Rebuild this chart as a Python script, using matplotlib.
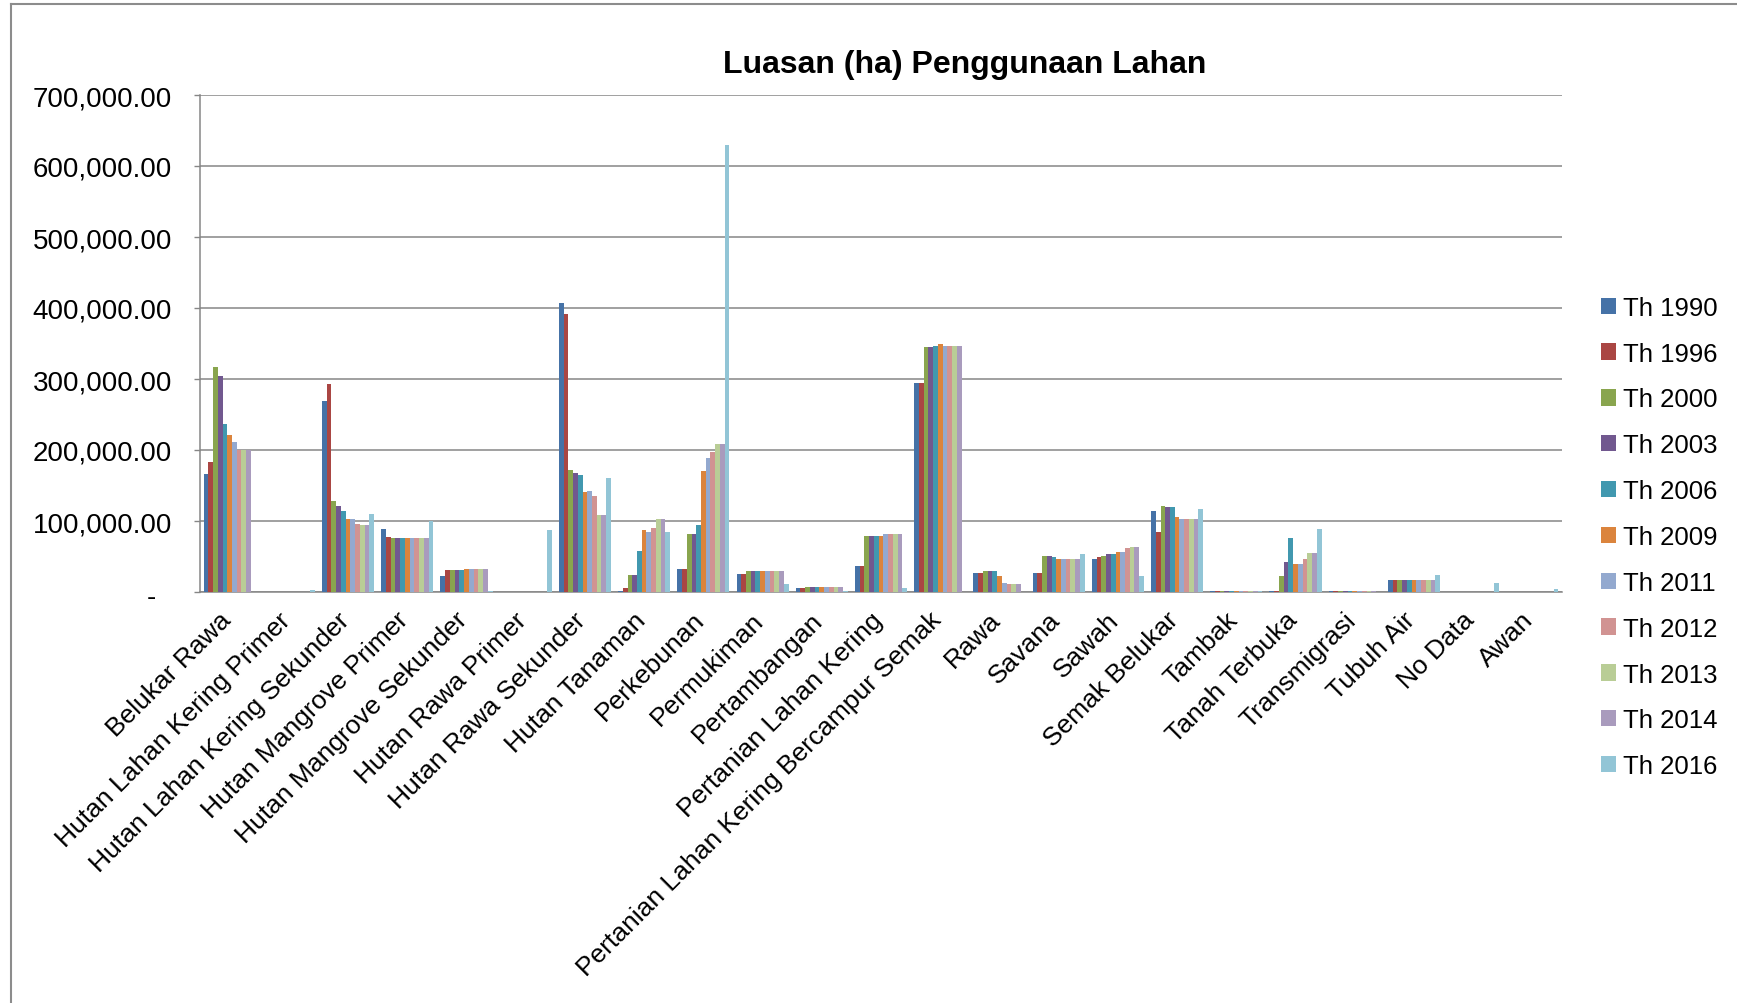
import numpy as np
import matplotlib
matplotlib.use("Agg")
import matplotlib.pyplot as plt
from matplotlib.lines import Line2D
from matplotlib.transforms import ScaledTranslation

plt.rcParams['font.family'] = ['Liberation Sans', 'DejaVu Sans']

categories = ["Belukar Rawa", "Hutan Lahan Kering Primer", "Hutan Lahan Kering Sekunder",
              "Hutan Mangrove Primer", "Hutan Mangrove Sekunder", "Hutan Rawa Primer",
              "Hutan Rawa Sekunder", "Hutan Tanaman", "Perkebunan", "Permukiman",
              "Pertambangan", "Pertanian Lahan Kering", "Pertanian Lahan Kering Bercampur Semak",
              "Rawa", "Savana", "Sawah", "Semak Belukar", "Tambak", "Tanah Terbuka",
              "Transmigrasi", "Tubuh Air", "No Data", "Awan"]

years = ["Th 1990", "Th 1996", "Th 2000", "Th 2003", "Th 2006", "Th 2009",
         "Th 2011", "Th 2012", "Th 2013", "Th 2014", "Th 2016"]

th1990 = [166700, 0, 269500, 89000, 21900, 0, 406700, 1900, 32900, 25700, 5700, 36200,
          294800, 27100, 27100, 47100, 114300, 1500, 1500, 1500, 17100, 0, 0]
th1996 = [183300, 0, 293300, 78100, 31000, 0, 391000, 5700, 32900, 25700, 5700, 36200,
          294800, 27100, 27100, 49000, 85200, 1500, 1500, 1500, 17100, 0, 0]
th2000 = [316700, 0, 128600, 76200, 31000, 0, 171900, 23800, 81400, 29000, 7600, 79500,
          345200, 29000, 51000, 51000, 121400, 1500, 22400, 1500, 17100, 0, 0]
th2003 = [303800, 0, 121400, 76200, 31000, 0, 168100, 23800, 81400, 29000, 7600, 79500,
          345200, 29000, 51000, 52900, 119500, 1500, 42400, 1500, 17100, 0, 0]
th2006 = [237100, 0, 114300, 76200, 31000, 0, 164300, 58100, 94300, 29000, 7600, 79500,
          347100, 29000, 49000, 52900, 119500, 1500, 76700, 1500, 17100, 0, 0]
th2009 = [221000, 0, 103300, 76200, 32900, 0, 141000, 87100, 170000, 29000, 7600, 79500,
          349000, 21900, 47100, 56700, 105200, 1500, 40000, 1500, 17100, 0, 0]
th2011 = [211900, 0, 103300, 76200, 32900, 0, 142900, 85200, 188100, 29000, 7600, 81400,
          347100, 12900, 47100, 56700, 103300, 1500, 40000, 1500, 17100, 0, 0]
th2012 = [200000, 0, 96200, 76200, 32900, 0, 135700, 90500, 196700, 29000, 7600, 81400,
          347100, 11000, 47100, 61900, 103300, 1500, 46200, 1500, 17100, 0, 0]
th2013 = [200000, 0, 94300, 76200, 32900, 0, 108600, 103300, 208100, 29000, 7600, 81400,
          347100, 11000, 47100, 63300, 103300, 1500, 54800, 1500, 17100, 0, 0]
th2014 = [200000, 0, 94300, 76200, 32900, 0, 108600, 103300, 208100, 29000, 7600, 81400,
          347100, 11000, 47100, 63300, 103300, 1500, 54800, 1500, 17100, 0, 0]
th2016 = [0, 2400, 110500, 99500, 1900, 87100, 161000, 85200, 629000, 11000, 1900, 5700,
          0, 0, 52900, 21900, 117600, 1500, 89000, 0, 24300, 13300, 4300]

series = [th1990, th1996, th2000, th2003, th2006, th2009, th2011, th2012, th2013, th2014, th2016]
colors = ['#4572A7', '#AA4643', '#89A54E', '#71588F', '#4198AF', '#DB843D',
          '#93A9CF', '#D19392', '#B9CD96', '#A99BBD', '#92C5D6']

W, H = 1737, 1004
fig = plt.figure(figsize=(W / 100, H / 100), dpi=100)
ax = fig.add_axes([200 / W, 1 - 593 / H, 1362 / W, 497 / H])

x = np.arange(len(categories))
bw = 0.08
for i in range(len(series)):
    ax.bar(x + (i - 5) * bw, series[i], bw, color=colors[i], label=years[i], linewidth=0, zorder=3)

ax.set_xlim(-0.5, len(categories) - 0.5)
ax.set_ylim(0, 700000)
yt = list(range(0, 700001, 100000))
ax.set_yticks(yt)
ax.set_yticklabels(["-" if v == 0 else "{:,.2f}".format(v) for v in yt], fontsize=20)
ax.set_xticks(x)
ax.set_xticklabels(categories, rotation=45, ha='right', fontsize=19)

ax.tick_params(axis='y', length=4, width=1, color='#868686', pad=16)
ax.tick_params(axis='x', length=0, pad=11)
ax.yaxis.grid(True, color='#868686', linewidth=1.1, zorder=0)
ax.set_axisbelow(True)
for s in ['top', 'right']:
    ax.spines[s].set_visible(False)
for s in ['left', 'bottom']:
    ax.spines[s].set_color('#868686')
    ax.spines[s].set_linewidth(1.1)

# shift category labels slightly right, like the original
for lb in ax.get_xticklabels():
    lb.set_transform(lb.get_transform() + ScaledTranslation(6 / 100, 0, fig.dpi_scale_trans))

# zero label sits a bit to the left (accounting format)
lbl0 = ax.get_yticklabels()[0]
lbl0.set_transform(lbl0.get_transform() + ScaledTranslation(-16 / 100, -2 / 100, fig.dpi_scale_trans))

fig.text(965 / W, 1 - 65 / H, "Luasan (ha) Penggunaan Lahan", ha='center', va='center',
         fontsize=23, fontweight='bold')

ax.legend(loc='center left', bbox_to_anchor=(1601 / W, 1 - 538 / H), bbox_transform=fig.transFigure,
          frameon=False, fontsize=18.5, handlelength=0.6, handleheight=0.6, handletextpad=0.25,
          labelspacing=0.85, borderpad=0, borderaxespad=0)

# chart frame
fig.add_artist(Line2D([11 / W, 11 / W], [0, 1 - 5 / H], transform=fig.transFigure, color='#8c8c8c', lw=1.5))
fig.add_artist(Line2D([11 / W, 1], [1 - 5 / H, 1 - 5 / H], transform=fig.transFigure, color='#8c8c8c', lw=1.5))

fig.savefig("out.png", dpi=100)
